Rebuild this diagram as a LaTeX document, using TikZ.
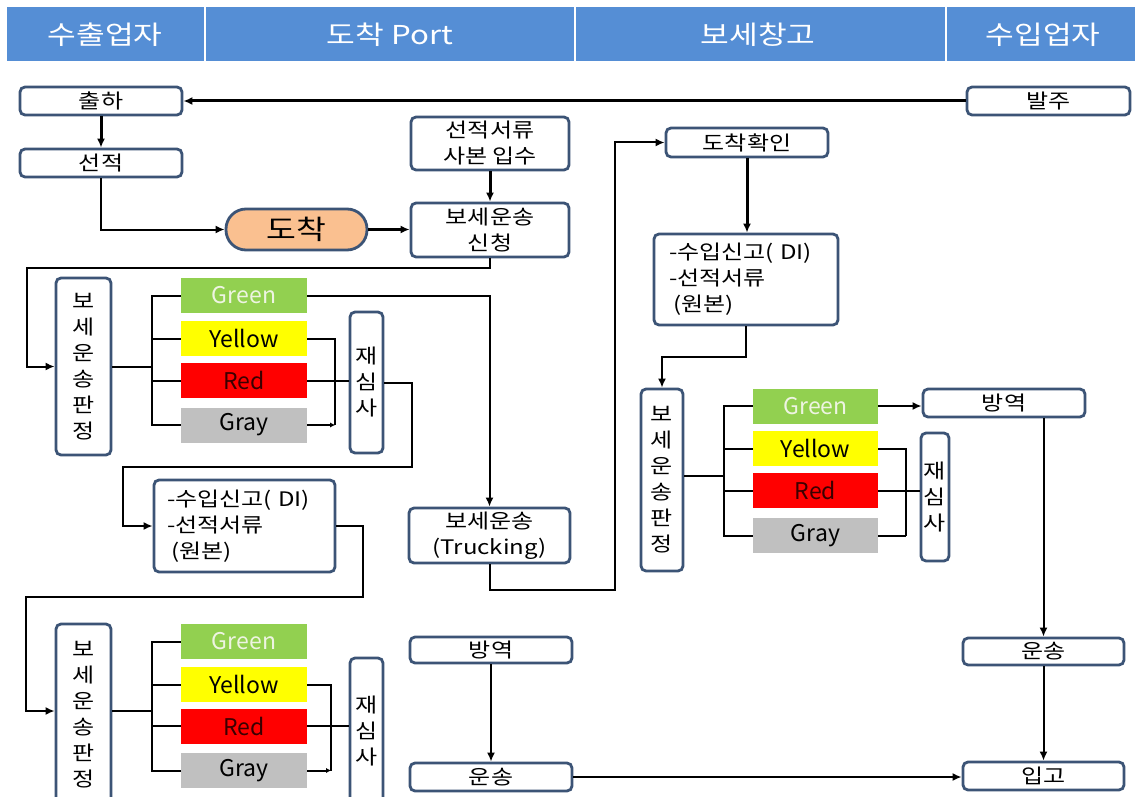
\documentclass[tikz,border=0pt]{standalone}
\usepackage{fontspec}
\setmainfont{Noto Sans CJK KR}[FakeStretch=1.2]
\newfontfamily\latinf{Noto Sans CJK KR}
\usetikzlibrary{arrows.meta}
\definecolor{hdr}{HTML}{558ED5}
\definecolor{bord}{HTML}{3C5476}
\definecolor{peach}{HTML}{FAC090}
\definecolor{cgreen}{HTML}{92D050}
\definecolor{cyellow}{HTML}{FFFF00}
\definecolor{cred}{HTML}{FF0000}
\definecolor{cgray}{HTML}{C0C0C0}
\definecolor{gtext}{HTML}{EEF4E2}
\definecolor{rtext}{HTML}{3A0000}
\tikzset{
  box/.style={draw=bord, line width=2.8pt, rounded corners=5pt, fill=white, inner sep=0pt, font=\fontsize{20}{26}\selectfont},
  vbox/.style={box, align=center, font=\fontsize{20}{26}\selectfont},
  lbox/.style={box, align=left, inner xsep=13pt, font=\fontsize{20}{26}\selectfont},
  cbox/.style={inner sep=0pt, minimum width=126pt, minimum height=35pt, font=\latinf\fontsize{23}{28}\selectfont},
  htext/.style={inner sep=0pt, text=white, font=\fontsize{26}{30}\selectfont},
  ln/.style={line width=2pt},
  thk/.style={line width=3pt},
  arr/.style={-{Latex[length=9pt,width=8pt]}},
  sarr/.style={-{Latex[length=5pt,width=5pt]}},
}
\begin{document}
\begin{tikzpicture}[x=1pt,y=-1pt]
\useasboundingbox[fill=white] (0,0) rectangle (1135,797);
% header
\fill[hdr] (7,7) rectangle (204,61);
\fill[hdr] (206,7) rectangle (574,61);
\fill[hdr] (576,7) rectangle (945,61);
\fill[hdr] (947,7) rectangle (1135,61);
\node[htext] (h1) at (105,35) {수출업자};
\node[htext] (h2) at (390,35) {도착 Port};
\node[htext] (h3) at (758,35) {보세창고};
\node[htext] (h4) at (1043,35) {수입업자};

% top nodes
\node[box, minimum width=162pt, minimum height=28pt] (chulha) at (101,101) {출하};
\node[box, minimum width=162pt, minimum height=28pt] (seonjeok) at (101,163) {선적};
\node[box, minimum width=163pt, minimum height=28pt] (balju) at (1048.5,101) {발주};
\node[draw=bord, line width=2.8pt, fill=peach, rounded corners=20pt, minimum width=141pt, minimum height=41pt, inner sep=0pt, font=\fontsize{27}{30}\selectfont] (dochak) at (296.5,229.5) {도착};
\node[box, align=center, minimum width=158pt, minimum height=53pt] (sabon) at (490,143.5) {선적서류\\사본 입수};
\node[box, align=center, minimum width=158pt, minimum height=54pt] (sincheong) at (490,230) {보세운송\\신청};

% group 1
\node[vbox, minimum width=55pt, minimum height=177pt] (pj1) at (83.5,366.5) {보\\세\\운\\송\\판\\정};
\node[cbox, fill=cgreen, text=gtext] (green1) at (244,295.5) {Green};
\node[cbox, fill=cyellow] (yellow1) at (244,338.5) {Yellow};
\node[cbox, fill=cred, text=rtext] (red1) at (244,380.5) {Red};
\node[cbox, fill=cgray] (gray1) at (244,425) {Gray};
\node[vbox, minimum width=33pt, minimum height=141pt] (jsa1) at (366.5,382.5) {재\\심\\사};
\node[lbox, text width=155pt, minimum height=92pt] (singo1) at (244.5,526) {-수입신고( DI)\\-선적서류\\\hspace{4pt}(원본)};
\node[box, align=center, minimum width=161pt, minimum height=55pt] (trucking) at (489.5,535.5) {보세운송\\(Trucking)};

% group 2
\node[vbox, minimum width=55pt, minimum height=181pt] (pj2) at (83.5,714.5) {보\\세\\운\\송\\판\\정};
\node[cbox, fill=cgreen, text=gtext] (green2) at (244,641.5) {Green};
\node[cbox, fill=cyellow] (yellow2) at (244,684.5) {Yellow};
\node[cbox, fill=cred, text=rtext] (red2) at (244,726) {Red};
\node[cbox, fill=cgray] (gray2) at (244,770.5) {Gray};
\node[vbox, minimum width=33pt, minimum height=147pt] (jsa2) at (366.5,731.5) {재\\심\\사};
\node[box, minimum width=162pt, minimum height=26pt] (bangyeok1) at (491,650) {방역};
\node[box, minimum width=162pt, minimum height=28pt] (unsong1) at (491,777) {운송};

% right side
\node[box, minimum width=162pt, minimum height=29pt] (hwagin) at (747,142.5) {도착확인};
\node[lbox, inner xsep=15pt, text width=154pt, minimum height=91pt] (singo2) at (746,279.5) {-수입신고( DI)\\-선적서류\\\hspace{4pt}(원본)};
\node[vbox, minimum width=42pt, minimum height=182pt] (pj3) at (662,480) {보\\세\\운\\송\\판\\정};
\node[cbox, minimum width=125pt, fill=cgreen, text=gtext] (green3) at (815.5,406) {Green};
\node[cbox, minimum width=125pt, fill=cyellow] (yellow3) at (815.5,448.5) {Yellow};
\node[cbox, minimum width=125pt, fill=cred, text=rtext] (red3) at (815.5,490.5) {Red};
\node[cbox, minimum width=125pt, fill=cgray] (gray3) at (815.5,535.5) {Gray};
\node[vbox, minimum width=28pt, minimum height=128pt] (jsa3) at (935,497) {재\\심\\사};
\node[box, minimum width=162pt, minimum height=28pt] (bangyeok2) at (1004,403) {방역};
\node[box, minimum width=161pt, minimum height=27pt] (unsong2) at (1043.5,651.5) {운송};
\node[box, minimum width=161pt, minimum height=28pt] (ipgo) at (1043.5,776) {입고};

% junction coordinates
\coordinate (b1) at (152,366.5);
\coordinate (b2) at (152,711);
\coordinate (b3) at (724,476);

% connectors top
\draw[thk,arr] (balju.west) -- (chulha.east);
\draw[thk,arr] (chulha) -- (seonjeok);
\draw[ln,arr] (seonjeok.south) |- (dochak.west);
\draw[thk,arr] (dochak.east) -- (dochak.east -| sincheong.west);
\draw[thk,arr] (sabon) -- (sincheong);
\draw[ln,arr] (sincheong.south) -- ++(0,10) -| ([xshift=-28pt]pj1.west) -- (pj1.west);

% group 1 connectors
\draw[ln] (pj1.east |- b1) -- (b1);
\draw[ln] (green1.west) -| (b1) |- (gray1.west);
\draw[ln] (b1 |- yellow1.west) -- (yellow1.west);
\draw[ln] (b1 |- red1.west) -- (red1.west);
\draw[ln] (yellow1.east) -| ([xshift=28pt]gray1.east);
\draw[ln,sarr] (gray1.east) -- ([xshift=28pt]gray1.east);
\draw[ln] (red1.east) -- (red1.east -| jsa1.west);
\draw[ln,arr] (jsa1.east) -- ++(28,0) -- ++(0,84) -| ([xshift=-30pt]singo1.west) -- (singo1.west);
\draw[ln,arr] (green1.east) -| (trucking.north);
\draw[ln,arr] (singo1.east) -- ++(27,0) -- ++(0,71) -| ([xshift=-29pt]pj2.west |- b2) -- (pj2.west |- b2);

% group 2 connectors
\draw[ln] (pj2.east |- b2) -- (b2);
\draw[ln] (green2.west) -| (b2) |- (gray2.west);
\draw[ln] (b2 |- yellow2.west) -- (yellow2.west);
\draw[ln] (b2 |- red2.west) -- (red2.west);
\draw[ln] (yellow2.east) -| ([xshift=24pt]gray2.east);
\draw[ln,sarr] (gray2.east) -- ([xshift=24pt]gray2.east);
\draw[ln] (red2.east) -- (red2.east -| jsa2.west);
\draw[ln,arr] (bangyeok1) -- (unsong1);
\draw[ln,arr] (unsong1.east) -- (unsong1.east -| ipgo.west);

% right side connectors
\draw[ln,arr] (trucking.south) -- ++(0,26) -| ([xshift=-50pt]hwagin.west) -- (hwagin.west);
\draw[thk,arr] (hwagin.south) -- (hwagin.south |- singo2.north);
\draw[ln,arr] (singo2.south) -- ++(0,31) -| (pj3.north);
\draw[ln] (pj3.east |- b3) -- (b3);
\draw[ln] (green3.west) -| (b3) |- (gray3.west);
\draw[ln] (b3 |- yellow3.west) -- (yellow3.west);
\draw[ln] (b3 |- red3.west) -- (red3.west);
\draw[ln] (yellow3.east) -| ([xshift=28pt]gray3.east);
\draw[ln] (gray3.east) -- ([xshift=28pt]gray3.east);
\draw[ln] (red3.east) -- (red3.east -| jsa3.west);
\draw[ln,arr] (green3.east) -- (green3.east -| bangyeok2.west);
\draw[ln,arr] (unsong2.north |- bangyeok2.south) -- (unsong2.north);
\draw[ln,arr] (unsong2) -- (ipgo);
\end{tikzpicture}
\end{document}
